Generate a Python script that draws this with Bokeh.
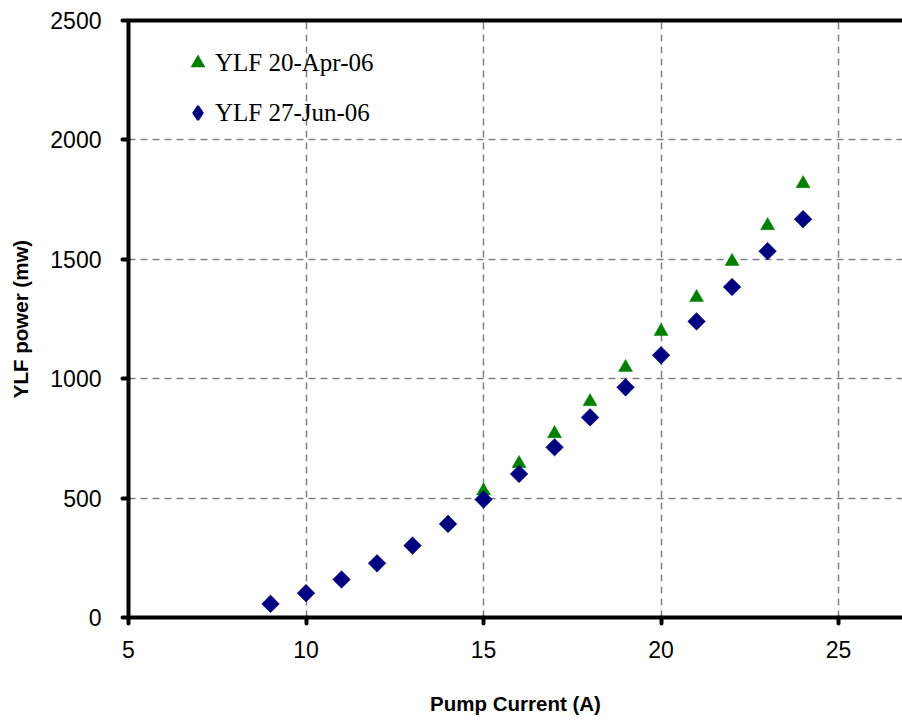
from bokeh.plotting import figure
from bokeh.models import (LinearAxis, FixedTicker, Legend, LegendItem, ColumnDataSource,
                          Range1d)
from bokeh.embed import file_html
from bokeh.resources import INLINE
import math

# ---- data ----
current_apr = [15, 16, 17, 18, 19, 20, 21, 22, 23, 24]
power_apr = [530, 645, 770, 904, 1047, 1198, 1340, 1491, 1641, 1817]

current_jun = [9, 10, 11, 12, 13, 14, 15, 16, 17, 18, 19, 20, 21, 22, 23, 24]
power_jun = [57, 102, 159, 227, 301, 392, 494, 601, 713, 838, 964, 1098, 1240, 1384, 1534, 1668]

x_ticks = [5, 10, 15, 20, 25]
y_ticks = [0, 500, 1000, 1500, 2000, 2500]
label_apr = "YLF 20-Apr-06"
label_jun = "YLF 27-Jun-06"

p = figure(frame_width=774, frame_height=597,
           x_range=Range1d(5, 26.8), y_range=Range1d(0, 2500),
           output_backend="svg", toolbar_location=None,
           min_border_left=128, min_border_right=0, min_border_top=20, min_border_bottom=105)
p.outline_line_color = None
p.background_fill_color = "white"
p.border_fill_color = "white"

for ax in (p.xaxis[0], p.yaxis[0]):
    ax.axis_line_width = 4
    ax.axis_line_color = "black"
    ax.major_tick_line_width = 4
    ax.major_tick_line_cap = "round"
    ax.major_tick_line_color = "black"
    ax.major_tick_in = 0
    ax.major_tick_out = 6
    ax.minor_tick_line_color = None
    ax.major_label_text_font = "Liberation Sans"
    ax.major_label_text_font_size = "23px"
    ax.major_label_text_color = "black"
    ax.axis_label_text_font = "Liberation Sans"
    ax.axis_label_text_font_size = "20.5px"
    ax.axis_label_text_font_style = "bold"
    ax.axis_label_text_color = "black"

p.xaxis[0].ticker = FixedTicker(ticks=x_ticks)
p.yaxis[0].ticker = FixedTicker(ticks=y_ticks)
p.xaxis[0].axis_label = "Pump Current (A)"
p.yaxis[0].axis_label = "YLF power (mw)"
p.xaxis[0].major_label_standoff = 17
p.yaxis[0].major_label_standoff = 21
p.xaxis[0].axis_label_standoff = 31
p.yaxis[0].axis_label_standoff = 15

top = LinearAxis(ticker=FixedTicker(ticks=[]), axis_line_width=4, axis_line_color="black",
                 major_tick_line_color=None, minor_tick_line_color=None,
                 major_label_text_font_size="0px", major_label_standoff=0)
p.add_layout(top, "above")

for g in (p.xgrid[0], p.ygrid[0]):
    g.grid_line_color = "#808080"
    g.grid_line_width = 1.5
    g.grid_line_dash = "7 5"
p.xgrid[0].ticker = FixedTicker(ticks=x_ticks[1:])
p.ygrid[0].ticker = FixedTicker(ticks=y_ticks[1:-1])

src_apr = ColumnDataSource(dict(x=current_apr, y=power_apr))
src_jun = ColumnDataSource(dict(x=current_jun, y=power_jun))

r_apr = p.scatter("x", "y", source=src_apr, marker="triangle", size=14,
                  fill_color="#008000", line_color="#008000", line_width=0.5)
r_jun = p.scatter("x", "y", source=src_jun, marker="square", size=12.5, angle=math.pi / 4,
                  fill_color="#000080", line_color="#000080", line_width=0.5)
# legend-only key for the diamond series (legend keys are never rotated in Bokeh);
# its single NaN point is never drawn on the plot itself
r_jun_key = p.scatter(x=[float("nan")], y=[float("nan")], marker="diamond",
                      fill_color="#000080", line_color="#000080", line_width=2.2)

legend = Legend(items=[LegendItem(label=label_apr, renderers=[r_apr]),
                       LegendItem(label=label_jun, renderers=[r_jun_key])],
                location=(52, 487), glyph_width=35, glyph_height=35, spacing=15,
                label_standoff=0, padding=0, margin=0, background_fill_alpha=0,
                border_line_color=None, label_text_font="Liberation Serif",
                label_text_font_size="25px", label_text_color="black", label_height=25)
p.add_layout(legend, "center")

open("out.html", "w").write(file_html(p, INLINE))
